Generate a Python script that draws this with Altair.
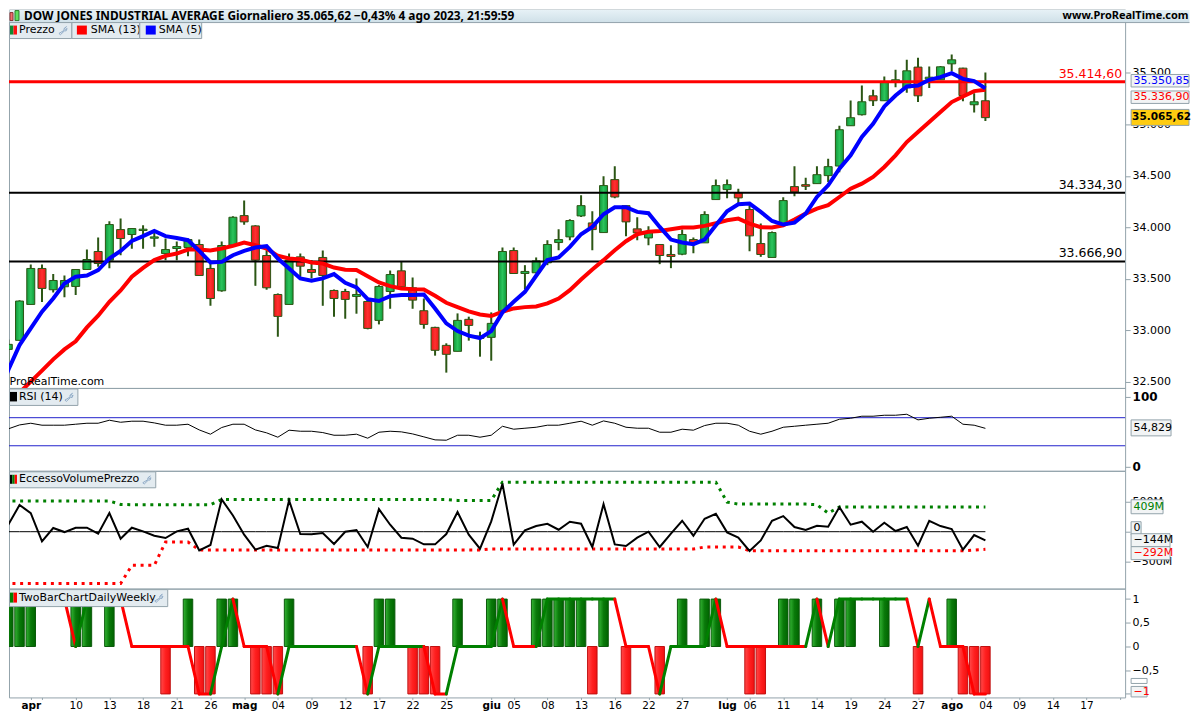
import altair as alt
import pandas as pd

# ---------- price data ----------
HIGH = [32909,33291,33638,33638,33544,33531,33589,33783,33900,34058,34084,33987,34019,33971,33890,33861,33890,33880,33647,33861,34107,34259,34019,33777,33356,33744,33744,33680,33773,33395,33401,33502,33291,33437,33579,33663,33511,33307,33032,32871,33162,33130,32984,33172,33803,33803,33631,33706,33874,33981,34078,34311,34155,34495,34592,34210,34097,34010,33832,33825,33977,33900,34155,34463,34463,34375,34214,34036,33958,34291,34592,34482,34592,34667,34987,35233,35379,35336,35466,35531,35628,35647,35563,35569,35679,35550,35304,35505]
OPEN = [32812,32900,33249,33599,33392,33421,33424,33589,33764,33680,33977,33929,33968,33893,33744,33793,33803,33832,33599,33382,33825,34113,34013,33725,33346,33249,33712,33589,33706,33385,33375,33327,33278,33094,33375,33576,33411,33188,33026,32851,32793,33104,32919,32929,33188,33773,33550,33557,33654,33851,33906,34110,34042,33948,34463,34210,33984,33896,33832,33735,33738,33880,33848,34269,34366,34337,34172,33841,33706,34036,34395,34414,34424,34502,34595,34987,35094,35278,35230,35411,35356,35557,35440,35434,35589,35547,35191,35230]
CLOSE = [32861,33282,33599,33405,33482,33482,33589,33686,33647,34026,33890,33987,33981,33906,33783,33812,33880,33531,33307,33822,34097,34052,33680,33411,33133,33680,33621,33560,33531,33307,33298,33346,33016,33424,33540,33421,33291,33055,32803,32764,33094,33045,32942,33065,33764,33550,33570,33673,33832,33880,34065,34210,33977,34405,34294,34052,33945,33955,33725,33715,33929,33848,34123,34405,34414,34285,33916,33735,33948,34259,34343,34398,34511,34589,34948,35065,35220,35230,35411,35434,35521,35278,35459,35560,35628,35281,35220,35065.62]
LOW = [32683,32897,33249,33272,33366,33320,33340,33589,33615,33602,33728,33790,33790,33809,33680,33680,33718,33531,33236,33372,33825,34023,33430,33392,32935,33249,33518,33502,33236,33130,33110,33159,33007,33055,33207,33395,33207,33013,32751,32586,32793,32897,32741,32702,33188,33547,33395,33557,33631,33777,33874,34100,33777,33948,34282,33913,33874,33825,33641,33602,33728,33748,33848,34269,34282,34230,33767,33712,33706,34019,34301,34362,34424,34440,34534,34987,35087,35178,35230,35362,35307,35217,35353,35434,35518,35226,35116,35032]
# index 1..87
SMA13 = [32392,32498,32605,32715,32812,32890,33026,33139,33275,33385,33518,33605,33680,33722,33744,33783,33783,33773,33793,33819,33851,33825,33793,33722,33696,33686,33657,33647,33608,33586,33583,33524,33463,33427,33405,33398,33395,33333,33265,33223,33181,33152,33136,33178,33210,33223,33230,33259,33307,33388,33492,33589,33680,33777,33864,33932,33955,33964,33981,33997,33997,34013,34039,34068,34084,34036,34000,33997,34019,34074,34133,34181,34214,34294,34375,34424,34489,34586,34699,34828,34925,35023,35120,35217,35272,35324,35336.9]
# index -1..87
SMA5 = [32321,32612,32854,33016,33178,33307,33453,33518,33531,33583,33696,33770,33867,33913,33964,33913,33896,33874,33770,33657,33663,33728,33770,33803,33816,33696,33599,33502,33479,33502,33544,33460,33414,33301,33282,33330,33340,33340,33346,33210,33065,32990,32945,32922,32990,33172,33275,33372,33528,33680,33706,33809,33932,34003,34126,34194,34194,34149,34136,34003,33880,33851,33835,33880,34019,34155,34223,34230,34149,34061,34026,34045,34133,34294,34408,34570,34699,34877,35006,35175,35281,35369,35379,35434,35459,35498,35443,35421,35350.85]
LEVELS = [35414.60, 34334.30, 33666.90]
LEVEL_TEXT = ["35.414,60", "34.334,30", "33.666,90"]
LEVEL_COLOR = ["#ff0000", "#000000", "#000000"]

RSI = [51.7,54.1,59.7,62.1,59.3,59.3,59.3,60.7,62.1,62.1,66.4,63.5,65.0,65.0,62.6,59.3,59.3,60.7,52.6,46.5,56.0,60.7,60.7,52.6,48.4,42.2,52.2,50.7,50.7,48.8,45.0,45.0,46.5,40.8,49.3,50.7,49.8,46.9,42.7,38.4,37.9,45.0,45.0,42.2,45.0,57.8,53.6,55.0,56.4,59.3,59.3,62.1,65.0,59.3,65.4,62.1,56.4,55.0,55.0,49.3,49.3,53.6,52.2,58.8,62.1,62.1,59.3,50.7,46.5,50.7,56.4,57.8,59.3,60.7,62.1,67.8,69.2,72.1,72.1,73.5,73.5,74.9,66.9,69.2,70.6,72.1,60.7,59.3,54.83]

VOL = [282,116,442,309,-160,61,-6,66,66,-33,309,-116,66,6,-66,-105,6,50,-309,-221,535,270,-50,-298,-232,-270,519,-39,-44,-22,-204,0,28,-254,375,116,-99,-116,-210,-210,-39,326,-50,-282,171,795,-215,22,94,132,33,166,132,-254,458,-210,-237,-99,0,-254,-33,182,-66,215,298,-11,-99,-320,-144,182,259,77,28,99,83,408,116,166,0,149,11,77,-232,182,94,44,-298,-55,-144]
VOL_UP = [508]*11 + [453] + [447]*8 + [535]*21 + [519]*4 + [822]*20 + [491] + [458]*7 + [447,309] + [409]*14
VOL_DN = [-861]*12 + [-558]*3 + [-171]*3 + [-304]*26 + [-287]*19 + [-254]*4 + [-315]*20 + [-304,-292]

TWO_GREEN = [0,1,2,6,7,9,16,19,20,25,33,34,40,43,44,47,48,49,50,51,53,60,62,63,69,70,72,74,75,78,84]
TWO_RED = [14,17,18,22,23,24,32,36,37,38,52,55,58,66,67,81,85,86,87]
TWO_LINE = [0,1,1,1,1,1,1,0,1,1,1,1,0,0,0,0,0,0,-1,-1,0,1,0,0,0,-1,0,0,0,0,0,0,0,-1,0,0,0,0,0,-1,-1,0,0,0,0,1,0,0,0,1,1,1,1,1,1,1,0,0,0,-1,0,0,0,0,1,0,0,0,0,0,0,0,0,1,0,1,1,1,1,1,1,1,0,1,0,0,0,-1,-1]

TICK_I = [0,2,3,6,9,12,15,18,21,24,27,30,33,36,39,43,45,48,51,54,57,60,64,66,69,72,75,78,81,84,87,90,93,96,99]
TICK_L = ["","apr","","10","13","18","21","26","mag","04","09","12","17","22","25","giu","05","08","13","16","22","27","lug","06","11","14","19","24","27","ago","04","09","14","17",""]
MONTH_I = [2,21,43,64,84]

TITLE = "DOW JONES INDUSTRIAL AVERAGE Giornaliero 35.065,62 \u22120,43% 4 ago 2023, 21:59:59"
SITE = "www.ProRealTime.com"

# ---------- layout ----------
FONT = "DejaVu Sans"
W = 1118
ORG = 9          # page column / row of the chart's origin
RIGHT = 1191.5   # last page column the chart may use
GRID = "#93a3ab"
DARK = "#2b5614"
ONE = pd.DataFrame({"_": [0]})
x_sc = alt.Scale(domain=[0.0622, 99.44], nice=False, zero=False, padding=0)
x_none = alt.X("i:Q", scale=x_sc, axis=None)

def grad(stops, vertical=False):
    return alt.Gradient(gradient="linear", x1=0, y1=0, x2=0 if vertical else 1, y2=1 if vertical else 0,
                        stops=[alt.GradientStop(color=c, offset=k / (len(stops) - 1)) for k, c in enumerate(stops)])

def box(top, x0, x1, y0, y1, fill, stroke=None):
    kw = {"stroke": stroke, "strokeWidth": 1} if stroke else {}
    return alt.Chart(ONE).mark_rect(color=fill, **kw).encode(
        x=alt.value(max(0.5, x0 - ORG)), x2=alt.value(x1 - ORG), y=alt.value(y0 - top), y2=alt.value(y1 - top))

def txt(top, x, y, s, color="#000000", size=11, weight="normal", align="left", font=FONT):
    return alt.Chart(pd.DataFrame({"t": [s]})).mark_text(
        font=font, fontSize=size, fontWeight=weight, align=align, baseline="middle", color=color
    ).encode(x=alt.value(x - ORG), y=alt.value(y - top), text="t:N")

WRENCH = "M0.85,-0.95 L0.25,-0.45 L0.3,-0.05 L-0.95,0.7 L-0.6,1 L0.35,0.1 L0.8,0.05 L1,-0.5 L0.6,-0.25 L0.4,-0.45 Z"

def tab(top, x1, y0, y1, s, colors, tx=19):
    parts = [box(top, 1, x1, y0, y1, "#e3ebf0", GRID)]
    n = len(colors)
    for k, c in enumerate(colors):
        parts.append(box(top, 10 + 7 * k / n, 10 + 7 * (k + 1) / n, y0 + 3, y1 - 4, c))
    parts.append(txt(top, tx, (y0 + y1) / 2 - 0.5, s))
    parts.append(alt.Chart(ONE).mark_point(shape=WRENCH, size=70, filled=False, stroke="#6f93b8", strokeWidth=1).encode(
        x=alt.value(x1 - ORG - 9), y=alt.value((y0 + y1) / 2 - top)))
    return parts

def badge(top, x1, y0, y1, s, color="#000000", fill="#f2f4f5", weight="normal"):
    return [box(top, 1133, x1, y0, y1, fill, GRID),
            txt(top, 1135.5, (y0 + y1) / 2, s, color=color, weight=weight)]

# ---------- main pane ----------
TOP0 = 9
y_p = alt.Scale(domain=[32436.9, 36116.5], nice=False, zero=False)
df = pd.DataFrame({"i": range(88), "h": HIGH, "o": OPEN, "c": CLOSE, "l": LOW})
df["top"] = df[["o", "c"]].max(axis=1)
df["bot"] = df[["o", "c"]].min(axis=1)
up = df[df.c >= df.o]
dn = df[df.c < df.o]
price_axis = alt.Axis(values=[32500, 33000, 33500, 34000, 34500, 35000, 35500], orient="right", title=None,
                      labelFont=FONT, labelFontSize=11, labelColor="#000000", tickColor=GRID, tickSize=5,
                      domain=False, grid=False, labelPadding=2, labelOverlap=False,
                      labelExpr="replace(format(datum.value, ','), ',', '.')")
wicks = alt.Chart(df).mark_rule(color=DARK, strokeWidth=2, clip=True).encode(
    x=x_none, y=alt.Y("l:Q", scale=y_p, axis=price_axis), y2="h:Q")
def bodies(d, stops):
    return alt.Chart(d).mark_bar(size=8, orient="vertical", clip=True, color=grad(stops), stroke=DARK, strokeWidth=1).encode(
        x=x_none, y=alt.Y("top:Q", scale=y_p, axis=None), y2="bot:Q")
body_up = bodies(up, ["#119a3c", "#2cc45c", "#0f9a3a"])
body_dn = bodies(dn, ["#e81818", "#ff3030", "#e81818"])
lv = pd.DataFrame({"v": LEVELS, "t": LEVEL_TEXT, "c": LEVEL_COLOR})
lv_lines = alt.Chart(lv).mark_rule(clip=True).encode(
    y=alt.Y("v:Q", scale=y_p, axis=None), color=alt.Color("c:N", scale=None),
    strokeWidth=alt.condition("datum.v > 35000", alt.value(3), alt.value(2)))
lv_text = alt.Chart(lv).mark_text(font=FONT, fontSize=12.5, align="right", baseline="middle", dy=-8).encode(
    x=alt.value(1124 - ORG), y=alt.Y("v:Q", scale=y_p, axis=None), text="t:N", color=alt.Color("c:N", scale=None))
sma13 = alt.Chart(pd.DataFrame({"i": range(1, 88), "v": SMA13})).mark_line(color="#ff0000", strokeWidth=4, clip=True).encode(
    x=x_none, y=alt.Y("v:Q", scale=y_p, axis=None))
sma5 = alt.Chart(pd.DataFrame({"i": range(-1, 88), "v": SMA5})).mark_line(color="#0000ff", strokeWidth=4, clip=True).encode(
    x=x_none, y=alt.Y("v:Q", scale=y_p, axis=None))

head = [box(TOP0, 9, RIGHT, 9.5, 22, grad(["#e6f1f6", "#cfe0e8"], True)),
        alt.Chart(ONE).mark_rule(color=GRID, strokeWidth=1).encode(x=alt.value(0), x2=alt.value(RIGHT - ORG), y=alt.value(22 - TOP0)),
        box(TOP0, 10, 13, 12, 20, "#f07070", "#8a3030"), box(TOP0, 15, 19, 10, 20, "#5fe05f", "#2b7a2b"),
        txt(TOP0, 24, 15.5, TITLE, size=11.9, weight="bold", font="Noto Sans"),
        txt(TOP0, RIGHT - 1, 15.5, SITE, size=11, weight="bold", align="right", font="Noto Sans")]
tabs0 = tab(TOP0, 72, 22, 38, "Prezzo", ["#108a30", "#ff1010"]) + [
    box(TOP0, 72, 140, 22, 38, "#e3ebf0", GRID), box(TOP0, 77, 87, 25, 34, "#ff0000"), txt(TOP0, 91, 29.5, "SMA (13)"),
    box(TOP0, 140, 202, 22, 38, "#e3ebf0", GRID), box(TOP0, 146, 156, 25, 34, "#0000ff"), txt(TOP0, 159, 29.5, "SMA (5)")]
badges0 = (badge(TOP0, 1191, 74, 86.5, "35.350,85", "#0000ff") +
           badge(TOP0, 1191, 90.5, 103, "35.336,90", "#ff0000") +
           [box(TOP0, 1133, 1191, 109, 125, "#ffcc11", GRID), txt(TOP0, 1134, 117, "35.065,62", weight="bold", size=10.5)])
mark_txt = txt(TOP0, 9.5, 382, "ProRealTime.com")

main = alt.layer(wicks, body_up, body_dn, lv_lines, lv_text, sma13, sma5, mark_txt, *head, *tabs0, *badges0
                 ).resolve_axis(x="independent", y="independent").properties(width=W, height=379)

# ---------- RSI ----------
TOP1 = 388
y_r = alt.Scale(domain=[-5.7, 112.4], nice=False, zero=False)
rsi_axis = alt.Axis(values=[0, 100], orient="right", title=None, labelFont=FONT, labelFontSize=12, labelFontWeight="bold",
                    labelColor="#000000", tickColor=GRID, tickSize=5, domain=False, grid=False, labelPadding=2, labelOverlap=False)
rsi_band = alt.Chart(pd.DataFrame({"v": [30, 70]})).mark_rule(color="#2222cc", strokeWidth=1).encode(
    y=alt.Y("v:Q", scale=y_r, axis=rsi_axis))
rsi_line = alt.Chart(pd.DataFrame({"i": range(-1, 88), "v": RSI})).mark_line(color="#000000", strokeWidth=1, clip=True).encode(
    x=x_none, y=alt.Y("v:Q", scale=y_r, axis=None))
rsi = alt.layer(rsi_band, rsi_line, *tab(TOP1, 78, 389, 405.5, "RSI (14)", ["#000000"]),
                *badge(TOP1, 1173, 420, 436, "54,829")).resolve_axis(x="independent", y="independent").properties(width=W, height=83)

# ---------- volume ----------
TOP2 = 471
y_v = alt.Scale(domain=[-944, 1010], nice=False, zero=False)
vol_axis = alt.Axis(values=[-500, 0, 500], orient="right", title=None, labelFont=FONT, labelFontSize=11, labelColor="#000000",
                    tickColor=GRID, tickSize=5, domain=False, grid=False, labelPadding=2, labelOverlap=False,
                    labelExpr="datum.value == 0 ? '' : replace(datum.value + 'M', '-', '\u2212')")
vd = pd.DataFrame({"i": list(range(-1, 88)), "v": VOL, "u": VOL_UP, "d": VOL_DN, "z": [0] * 89})
zero = alt.Chart(vd).mark_line(color="#000000", strokeWidth=1, clip=True).encode(x=x_none, y=alt.Y("z:Q", scale=y_v, axis=vol_axis))
vup = alt.Chart(vd).mark_line(color="#008000", strokeWidth=3, strokeDash=[3, 4.7], clip=True).encode(x=x_none, y=alt.Y("u:Q", scale=y_v, axis=None))
vdn = alt.Chart(vd).mark_line(color="#ff0000", strokeWidth=3, strokeDash=[3, 4.7], clip=True).encode(x=x_none, y=alt.Y("d:Q", scale=y_v, axis=None))
vln = alt.Chart(vd).mark_line(color="#000000", strokeWidth=2, clip=True).encode(x=x_none, y=alt.Y("v:Q", scale=y_v, axis=None))
vol = alt.layer(zero, vup, vdn, vln, *tab(TOP2, 156, 472, 488, "EccessoVolumePrezzo", ["#000000", "#008000", "#ff0000"]),
                *badge(TOP2, 1165, 500, 514, "409M", "#008000"), *badge(TOP2, 1143, 522, 535, "0"),
                *badge(TOP2, 1172, 534, 547, "\u2212144M"), *badge(TOP2, 1172, 547, 560, "\u2212292M", "#ff0000")
                ).resolve_axis(x="independent", y="independent").properties(width=W, height=118)

# ---------- two bar ----------
TOP3 = 589
H3 = 109
y_t = alt.Scale(domain=[-1.074, 1.221], nice=False, zero=False)
two_axis = alt.Axis(values=[-1, -0.5, 0, 0.5, 1], orient="right", title=None, labelFont=FONT, labelFontSize=11, labelColor="#000000",
                    tickColor=GRID, tickSize=5, domain=False, grid=False, labelPadding=2, labelOverlap=False,
                    labelExpr="datum.value == -1 ? '' : replace(replace(datum.value + '', '.', ','), '-', '\u2212')")
lab = "{" + ",".join(f"'{a}':'{b}'" for a, b in zip(TICK_I, TICK_L)) + "}"
bold_test = "||".join(f"datum.value=={m}" for m in MONTH_I)
x_axis = alt.Axis(values=TICK_I, title=None, labelFont=FONT, labelFontSize=10.5, labelColor="#000000", tickColor=GRID, tickSize=2,
                  domain=False, grid=False, labelPadding=1, labelOverlap=False, labelFlush=False,
                  labelExpr=f"({lab})[datum.value]",
                  labelFontWeight={"condition": {"test": bold_test, "value": "bold"}, "value": "normal"})
gd = pd.DataFrame({"i": TWO_GREEN, "v": [1] * len(TWO_GREEN), "z": [0] * len(TWO_GREEN)})
rd = pd.DataFrame({"i": TWO_RED, "v": [-1] * len(TWO_RED), "z": [0] * len(TWO_RED)})
def tbars(d, stops, stroke, axis_x=None, axis_y=None):
    return alt.Chart(d).mark_bar(size=9.5, orient="vertical", clip=True, color=grad(stops), stroke=stroke, strokeWidth=1).encode(
        x=alt.X("i:Q", scale=x_sc, axis=axis_x), y=alt.Y("v:Q", scale=y_t, axis=axis_y), y2="z:Q")
seg = []
prev = "#008000"
for k in range(len(TWO_LINE) - 1):
    a, b = TWO_LINE[k], TWO_LINE[k + 1]
    prev = "#008000" if b > a else "#ff0000" if b < a else prev
    seg.append({"i": k - 1, "j": k, "a": a, "b": b, "c": prev})
seg_df = pd.DataFrame(seg)
two_line = alt.Chart(seg_df).mark_rule(strokeWidth=3, strokeCap="round", clip=True).encode(
    x=x_none, x2="j:Q", y=alt.Y("a:Q", scale=y_t, axis=None), y2="b:Q", color=alt.Color("c:N", scale=None))
two = alt.layer(tbars(gd, ["#35b535", "#0a7a0a", "#006400"], "#0b5a0b", x_axis, two_axis),
                tbars(rd, ["#ff4a4a", "#ff2020", "#f01010"], "#c01010"), two_line,
                *tab(TOP3, 168, 590, 607, "TwoBarChartDailyWeekly", ["#008000", "#ff0000"]),
                box(TOP3, 1133, 1149, 679, 684, "#ffffff", GRID),
                *badge(TOP3, 1149, 687, 697.5, "\u22121", "#ff0000")
                ).resolve_axis(x="independent", y="independent").properties(width=W, height=H3)

chart = alt.vconcat(main, rsi, vol, two, spacing=0, bounds="flush").properties(
    padding=0, background="#ffffff"
).configure_view(stroke=GRID, strokeWidth=1)

chart.save("out.html", embed_options={"renderer": "svg", "actions": False})
